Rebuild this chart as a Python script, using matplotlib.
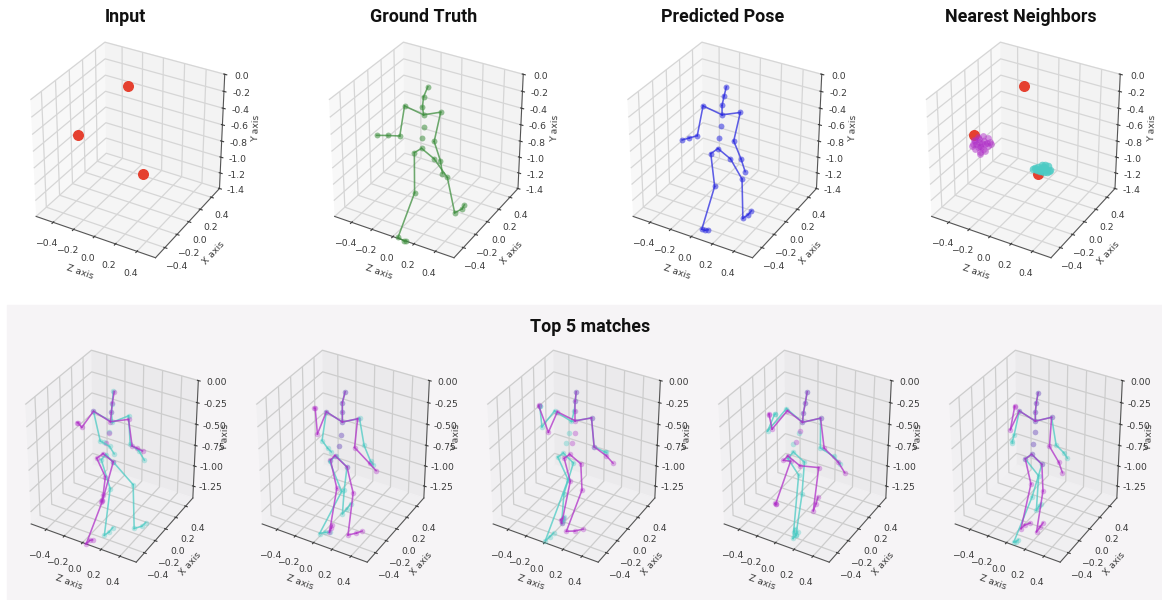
#!/usr/bin/env python3
"""3D pose panels: input points, ground truth, prediction, neighbours and top matches."""

import matplotlib
matplotlib.use("Agg")
import matplotlib.pyplot as plt
from matplotlib.patches import Rectangle

# Joint order: head top, head, neck, thorax, spine, spine, pelvis,
# left arm (4), right arm (4), left leg (5), right leg (5).
GT_Z = [-.00,-.04,-.05,-.04,-.04,-.06,-.06,-.22,-.27,-.39,-.50,.12,.06,.12,.14,-.13,.03,.03,.09,.11,.06,.21,.30,.37,.39]
GT_X = [0,0,0,0,0,0,0,0,0,0,0,0,0,0,0,0,-.26,-.52,-.52,-.52,0,-.04,-.07,-.07,-.07]
GT_Y = [-.00,-.13,-.25,-.34,-.48,-.62,-.75,-.30,-.68,-.72,-.76,-.25,-.62,-.83,-.98,-.83,-1.07,-1.42,-1.44,-1.43,-.83,-.97,-1.35,-1.27,-1.21]

PRED_Z = [.00,-.02,-.04,-.04,-.05,-.07,-.08,-.22,-.28,-.36,-.43,.13,.07,.14,.18,-.15,.03,.05,.08,.11,.04,.20,.26,.31,.34]
PRED_X = [0,0,0,0,0,0,0,0,0,0,0,0,0,0,0,0,-.235,-.47,-.47,-.47,0,-.085,-.17,-.17,-.17]
PRED_Y = [.00,-.11,-.23,-.34,-.48,-.63,-.76,-.30,-.68,-.74,-.79,-.25,-.61,-.80,-.94,-.85,-1.01,-1.35,-1.35,-1.33,-.84,-.96,-1.36,-1.29,-1.23]

M1_A_Z = [.01,-.01,-.02,-.03,-.04,-.08,-.11,-.21,-.34,-.38,-.39,.16,.20,.25,.31,-.18,-.12,-.18,-.19,-.20,.00,.04,.02,.06,.09]
M1_A_X = [0,0,0,0,0,0,0,0,0,0,0,0,0,0,0,0,.055,.11,.11,.11,0,-.26,-.52,-.52,-.52]
M1_A_Y = [.01,-.12,-.23,-.34,-.47,-.60,-.74,-.28,-.51,-.47,-.47,-.25,-.54,-.55,-.56,-.82,-1.06,-1.35,-1.41,-1.44,-.80,-1.08,-1.43,-1.37,-1.35]
M1_B_Z = [.00,-.01,-.02,-.01,-.05,-.10,-.08,-.21,-.14,-.04,.01,.16,.18,.27,.33,-.13,.09,.15,.20,.24,.00,.27,.34,.42,.46]
M1_B_X = [0,0,0,0,0,0,0,0,0,0,0,0,0,0,0,0,-.205,-.41,-.41,-.41,0,-.095,-.19,-.19,-.19]
M1_B_Y = [.01,-.13,-.23,-.34,-.47,-.60,-.74,-.28,-.60,-.63,-.70,-.21,-.53,-.57,-.66,-.82,-.95,-1.35,-1.29,-1.22,-.80,-.91,-1.35,-1.29,-1.23]

M2_A_Z = [.01,-.02,-.02,-.02,-.03,-.06,-.10,-.19,-.29,-.31,-.32,.14,.11,.27,.34,-.15,.04,.08,.10,.11,.03,.20,.25,.34,.40]
M2_A_X = [0,0,0,0,0,0,0,0,0,0,0,0,0,0,0,0,-.20,-.40,-.40,-.40,0,-.175,-.35,-.35,-.35]
M2_A_Y = [.01,-.12,-.23,-.34,-.49,-.63,-.76,-.28,-.57,-.28,-.28,-.25,-.59,-.72,-.78,-.83,-.97,-1.35,-1.29,-1.25,-.85,-.98,-1.35,-1.29,-1.24]
M2_B_Z = [.01,-.02,-.02,-.02,-.03,-.06,-.09,-.19,-.24,-.18,-.14,.16,.21,.28,.31,-.16,.11,.01,.07,.12,.03,.03,.04,.09,.13]
M2_B_X = [0,0,0,0,0,0,0,0,0,0,0,0,0,0,0,0,-.23,-.46,-.46,-.46,0,-.05,-.10,-.10,-.10]
M2_B_Y = [.01,-.12,-.23,-.34,-.49,-.63,-.76,-.28,-.63,-.70,-.73,-.24,-.53,-.69,-.72,-.85,-.96,-1.35,-1.31,-1.29,-.85,-1.09,-1.35,-1.27,-1.19]

M3_A_Z = [.01,-.00,-.00,-.00,-.00,-.03,-.06,-.19,-.29,-.39,-.39,.17,.20,.33,.40,-.12,.03,.02,.01,.03,.06,.18,.12,.21,.30]
M3_A_X = [0,0,0,0,0,0,0,0,0,0,0,0,0,0,0,0,-.14,-.28,-.28,-.28,0,-.18,-.36,-.36,-.36]
M3_A_Y = [.01,-.10,-.21,-.32,-.46,-.59,-.73,-.28,-.55,-.28,-.27,-.23,-.55,-.61,-.67,-.80,-.93,-1.35,-1.31,-1.28,-.80,-.95,-1.35,-1.31,-1.25]
M3_B_Z = [.01,-.00,-.01,-.04,-.07,-.10,-.13,-.22,-.36,-.38,-.38,.17,.20,.31,.33,-.19,.08,-.01,.04,.08,-.02,-.04,.02,.04,.05]
M3_B_X = [0,0,0,0,0,0,0,0,0,0,0,0,0,0,0,0,-.26,-.52,-.52,-.52,0,-.14,-.28,-.28,-.28]
M3_B_Y = [.01,-.10,-.21,-.34,-.48,-.61,-.74,-.28,-.51,-.27,-.27,-.23,-.55,-.57,-.57,-.81,-.81,-1.40,-1.33,-1.27,-.82,-1.11,-1.35,-1.31,-1.26]

M4_A_Z = [.01,-.01,-.03,-.04,-.07,-.11,-.20,-.20,-.37,-.40,-.40,.15,.19,.34,.41,-.25,-.14,-.28,-.28,-.29,-.07,.14,.09,.12,.14]
M4_A_X = [0,0,0,0,0,0,0,0,0,0,0,0,0,0,0,0,-.05,-.10,-.10,-.10,0,-.01,-.02,-.02,-.02]
M4_A_Y = [.01,-.12,-.24,-.35,-.46,-.60,-.80,-.27,-.54,-.38,-.37,-.24,-.57,-.68,-.78,-.87,-.81,-1.35,-1.36,-1.35,-.87,-.81,-1.35,-1.25,-1.16]
M4_B_Z = [.01,-.01,-.03,-.04,-.08,-.14,-.14,-.21,-.42,-.34,-.33,.15,.15,.29,.36,-.20,.06,.14,.17,.19,-.02,.08,.14,.12,.13]
M4_B_X = [0,0,0,0,0,0,0,0,0,0,0,0,0,0,0,0,-.235,-.47,-.47,-.47,0,-.21,-.42,-.42,-.42]
M4_B_Y = [.01,-.12,-.24,-.35,-.49,-.64,-.73,-.25,-.58,-.36,-.35,-.24,-.58,-.63,-.69,-.83,-.78,-1.35,-1.30,-1.25,-.81,-1.02,-1.35,-1.31,-1.27]

M5_A_Z = [.01,-.01,-.02,-.02,-.02,-.05,-.06,-.19,-.29,-.24,-.24,.15,.13,.23,.27,-.13,.04,.04,.08,.14,.05,.16,.19,.23,.26]
M5_A_X = [0,0,0,0,0,0,0,0,0,0,0,0,0,0,0,0,-.18,-.36,-.36,-.36,0,-.165,-.33,-.33,-.33]
M5_A_Y = [.00,-.12,-.23,-.33,-.46,-.60,-.73,-.27,-.52,-.24,-.23,-.23,-.57,-.72,-.83,-.81,-.93,-1.35,-1.29,-1.24,-.81,-.98,-1.35,-1.27,-1.21]
M5_B_Z = [.01,-.01,-.02,-.02,-.02,-.05,-.06,-.19,-.25,-.27,-.27,.15,.20,.28,.32,-.13,.03,.02,.05,.07,.05,.10,.06,.08,.11]
M5_B_X = [0,0,0,0,0,0,0,0,0,0,0,0,0,0,0,0,-.025,-.05,-.05,-.05,0,-.26,-.52,-.52,-.52]
M5_B_Y = [.00,-.12,-.23,-.33,-.46,-.60,-.73,-.27,-.57,-.65,-.67,-.23,-.53,-.59,-.64,-.81,-.94,-1.35,-1.29,-1.25,-.81,-1.01,-1.39,-1.38,-1.34]

INPUT_Z = [-.01, -.50, .13]
INPUT_X = [0, 0, 0]
INPUT_Y = [.00, -.76, -.99]

WRIST_Z = [-.51,-.49,-.44,-.39,-.36,-.33,-.36,-.41,-.46,-.50,-.45,-.42,-.44,-.40,-.48,-.43,-.39,-.45,-.44,-.49,-.41,-.46,-.37,-.34,-.52]
WRIST_Y = [-.87,-.92,-.94,-.91,-.84,-.80,-.74,-.73,-.77,-.82,-.82,-.83,-.87,-.79,-.86,-.88,-.82,-.79,-.97,-.83,-.89,-.89,-.80,-.78,-.90]
FOOT_Z = [.10,.12,.15,.18,.21,.24,.22,.19,.16,.13,.15,.18,.20,.11,.16,.19,.23,.08,.17,.14]
FOOT_Y = [-.93,-.95,-.95,-.95,-.93,-.89,-.86,-.86,-.87,-.90,-.92,-.91,-.91,-.93,-.94,-.89,-.91,-.95,-.89,-.94]

BONES = [(0,1),(1,2),(2,3),(3,7),(7,8),(8,9),(9,10),(3,11),(11,12),(12,13),(13,14),
         (6,15),(15,16),(16,17),(17,18),(18,19),(6,20),(20,21),(21,22),(22,23),(23,24)]
XZ_TICKS = [-0.4, -0.2, 0.0, 0.2, 0.4]
TOP_Y_TICKS = [0.0, -0.2, -0.4, -0.6, -0.8, -1.0, -1.2, -1.4]
BOTTOM_Y_TICKS = [0.0, -0.25, -0.5, -0.75, -1.0, -1.25]
TITLES = ["Input", "Ground Truth", "Predicted Pose", "Nearest Neighbors"]

W, H = 1162, 600
TITLE_FONT = ["Roboto", "DejaVu Sans"]
GREEN, BLUE, PURPLE, TEAL, RED = "#3f8f3f", "#2b2be0", "#b030c8", "#4ccbc4", "#e5402f"


def make_axes(fig, left, top, size, y_ticks, aspect, elev, panes, grid, fmt, pads):
    ax = fig.add_axes([left / W, 1 - (top + size) / H, size / W, size / H], projection="3d", facecolor="none")
    ax.computed_zorder = False
    ax.view_init(elev=elev, azim=-60)
    ax.set_box_aspect(aspect)
    ax.set_xlim(-0.57, 0.57)
    ax.set_ylim(-0.55, 0.55)
    ax.set_zlim(-1.4, 0)
    ax.set_xticks(XZ_TICKS)
    ax.set_yticks(XZ_TICKS)
    ax.set_zticks(y_ticks)
    ax.set_zticklabels([fmt % t for t in y_ticks])
    ax.tick_params(labelsize=6.7, colors="#3a3a3a")
    ax.tick_params(axis="x", pad=pads[0])
    ax.tick_params(axis="y", pad=pads[0])
    ax.tick_params(axis="z", pad=pads[1])
    ax.set_xlabel("Z axis", fontsize=6.7, labelpad=pads[2], color="#3a3a3a")
    ax.set_ylabel("X axis", fontsize=6.7, labelpad=pads[3], color="#3a3a3a")
    ax.set_zlabel("Y axis", fontsize=6.7, labelpad=pads[4], color="#3a3a3a")
    for axis, pane in zip((ax.xaxis, ax.yaxis, ax.zaxis), panes):
        axis.set_pane_color(pane)
        axis._axinfo["grid"].update(color=grid, linewidth=0.9)
        axis.line.set_color("#555555")
        axis.line.set_linewidth(0.8)
    return ax


def draw_skeleton(ax, z, x, y, color, size=18, alpha=0.55):
    ax.scatter(z, x, y, s=size, color=color, alpha=alpha, depthshade=False, linewidths=0)
    for a, b in BONES:
        ax.plot([z[a], z[b]], [x[a], x[b]], [y[a], y[b]], color=color, lw=1.15, alpha=0.75)


fig = plt.figure(figsize=(W / 100, H / 100), dpi=100)
fig.patches.append(Rectangle((7 / W, 0), 1155 / W, 295 / H, transform=fig.transFigure, color="#f6f4f6", zorder=-5))

top_panes = ("#f8f8f8", "#f3f3f3", "#f5f5f5")
bottom_panes = ("#f1f0f2", "#ebeaec", "#f0eff1")
top_axes = [make_axes(fig, 10.7 + 298.5 * i, 33.8, 231, TOP_Y_TICKS, (1, 1, 0.985), 32, top_panes, "#d6d6d6", "%.1f",
                      (0, 0, -4, -3, -4.5))
            for i in range(4)]
bottom_axes = [make_axes(fig, 1.45 + 231 * i, 347.65, 217.7, BOTTOM_Y_TICKS, (0.9, 0.9, 1.05), 34, bottom_panes, "#cdcdcd", "%.2f",
                         (2, 1, -3, -1.5, -6))
               for i in range(5)]

top_axes[0].scatter(INPUT_Z, INPUT_X, INPUT_Y, s=48, color=RED, depthshade=False)
draw_skeleton(top_axes[1], GT_Z, GT_X, GT_Y, GREEN)
draw_skeleton(top_axes[2], PRED_Z, PRED_X, PRED_Y, BLUE)
top_axes[3].scatter(INPUT_Z, INPUT_X, INPUT_Y, s=48, color=RED, depthshade=False)
top_axes[3].scatter(WRIST_Z, [0] * len(WRIST_Z), WRIST_Y, s=24, color=PURPLE, alpha=0.5, depthshade=False, linewidths=0)
top_axes[3].scatter(FOOT_Z, [0] * len(FOOT_Z), FOOT_Y, s=30, color=TEAL, alpha=0.75, depthshade=False, linewidths=0)

matches = [
    ((M1_B_Z, M1_B_X, M1_B_Y), (M1_A_Z, M1_A_X, M1_A_Y)),
    ((M2_B_Z, M2_B_X, M2_B_Y), (M2_A_Z, M2_A_X, M2_A_Y)),
    ((M3_B_Z, M3_B_X, M3_B_Y), (M3_A_Z, M3_A_X, M3_A_Y)),
    ((M4_B_Z, M4_B_X, M4_B_Y), (M4_A_Z, M4_A_X, M4_A_Y)),
    ((M5_B_Z, M5_B_X, M5_B_Y), (M5_A_Z, M5_A_X, M5_A_Y)),
]
for ax, (teal, purple) in zip(bottom_axes, matches):
    draw_skeleton(ax, *teal, TEAL, size=16, alpha=0.35)
    draw_skeleton(ax, *purple, PURPLE, size=16, alpha=0.35)

for i, title in enumerate(TITLES):
    fig.text((125.5 + 298.5 * i) / W, 1 - 17 / H, title, family=TITLE_FONT, fontsize=12.9, fontweight="bold",
             ha="center", va="center", color="#111111")
fig.text(590 / W, 1 - 327 / H, "Top 5 matches", family=TITLE_FONT, fontsize=12.9, fontweight="bold",
         ha="center", va="center", color="#111111")

fig.savefig("out.png", dpi=100)
plt.close(fig)
